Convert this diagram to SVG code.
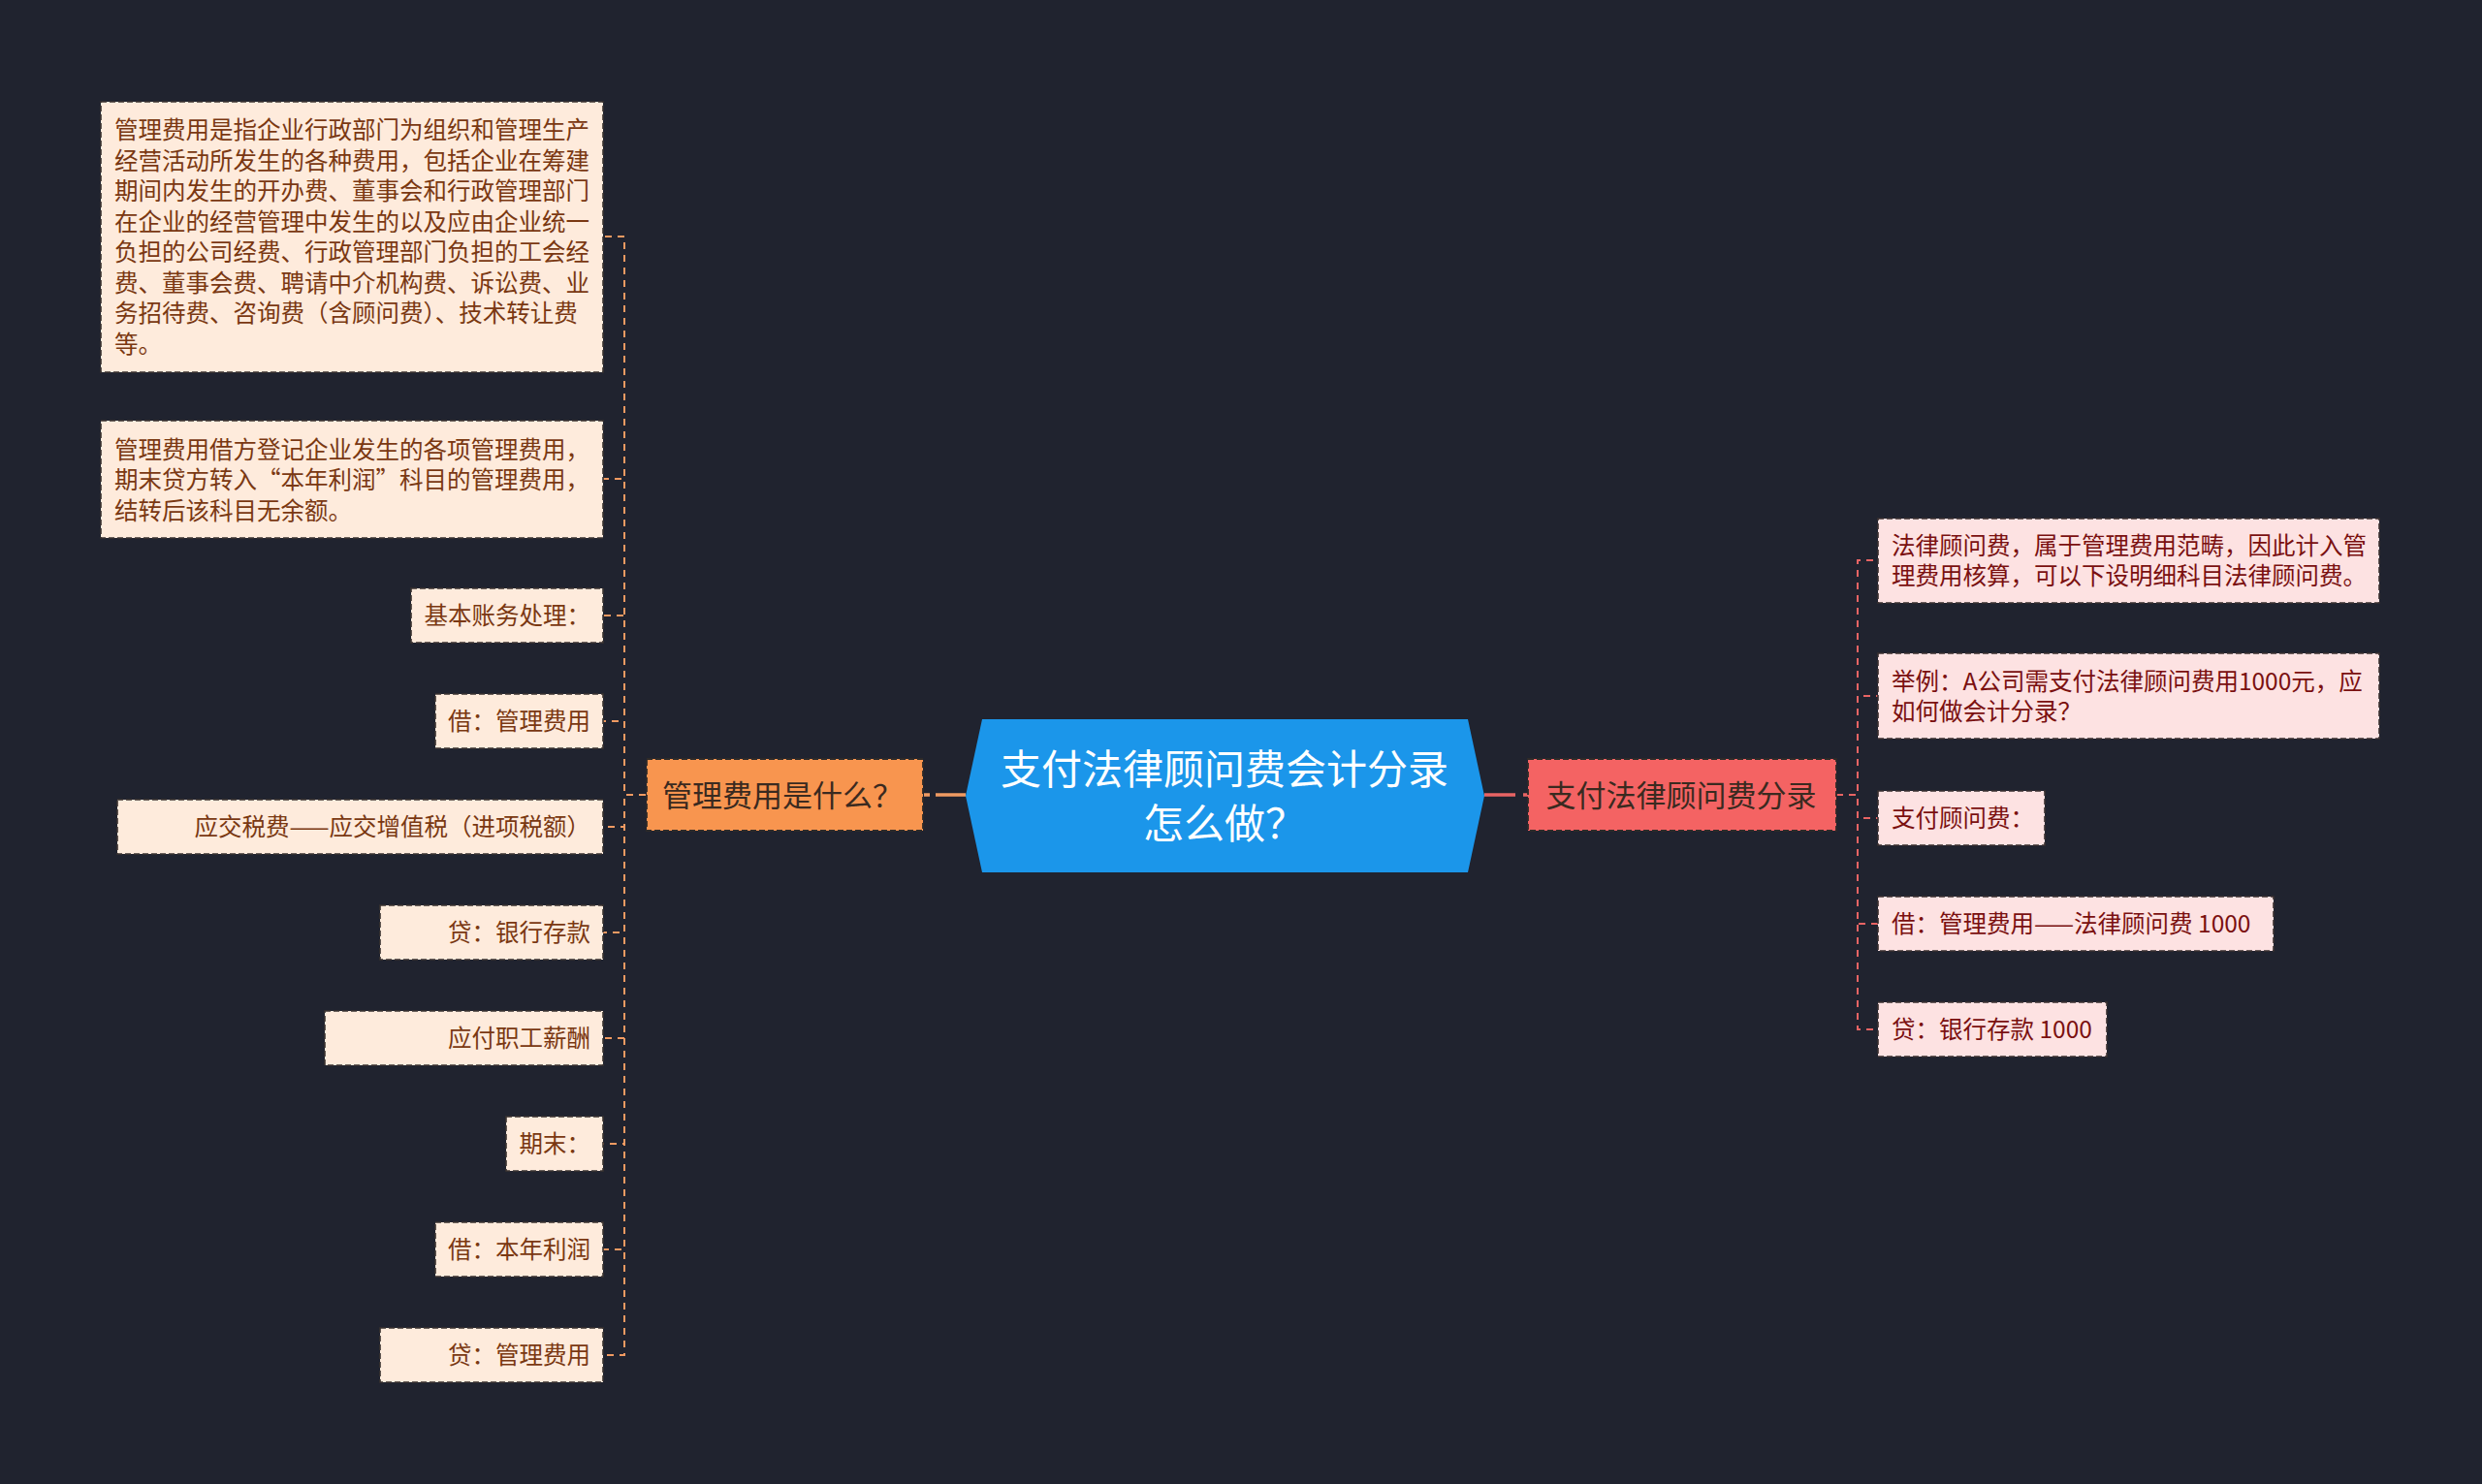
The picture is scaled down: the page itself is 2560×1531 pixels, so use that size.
<svg xmlns="http://www.w3.org/2000/svg" width="2560" height="1531" viewBox="0 0 2560 1531">
<defs>
<style>
.bg{fill:#20232f}
text{font-family:"Noto Sans CJK SC","Noto Sans",sans-serif}
.leafL rect{fill:#feebdc;stroke:#3a3330;stroke-width:1.6;stroke-dasharray:6 3}
.leafR rect{fill:#fde2e2;stroke:#3a3030;stroke-width:1.6;stroke-dasharray:6 3}
.leafL text{fill:#7a3812;font-size:24.5px;dominant-baseline:central}
.leafR text{fill:#7a1010;font-size:24.5px;dominant-baseline:central}
.branch rect{stroke:#2e2a28;stroke-width:1.8;stroke-dasharray:6 3}
.branch text{fill:#3a2a20;font-size:31px;dominant-baseline:central;text-anchor:middle}
.cL{fill:none;stroke:#f09a62;stroke-width:2;stroke-dasharray:7 6}
.cR{fill:none;stroke:#e86464;stroke-width:2;stroke-dasharray:7 6}
.end{text-anchor:end}
</style>
</defs>
<rect class="bg" x="0" y="0" width="2560" height="1531"/>

<g id="connectors">
<path class="cL" d="M666 820 H644 V244 H622"/>
<path class="cL" d="M666 820 H644 V494 H622"/>
<path class="cL" d="M666 820 H644 V635 H622"/>
<path class="cL" d="M666 820 H644 V744 H622"/>
<path class="cL" d="M666 820 H644 V853 H622"/>
<path class="cL" d="M666 820 H644 V962 H622"/>
<path class="cL" d="M666 820 H644 V1071 H622"/>
<path class="cL" d="M666 820 H644 V1180 H622"/>
<path class="cL" d="M666 820 H644 V1289 H622"/>
<path class="cL" d="M666 820 H644 V1398 H622"/>
<path class="cR" d="M1894 820 H1916 V578 H1937"/>
<path class="cR" d="M1894 820 H1916 V718 H1937"/>
<path class="cR" d="M1894 820 H1916 V844 H1937"/>
<path class="cR" d="M1894 820 H1916 V953 H1937"/>
<path class="cR" d="M1894 820 H1916 V1062 H1937"/>
<path d="M953 820 H996" fill="none" stroke="#f09a62" stroke-width="3.5" stroke-dasharray="6 6 40"/>
<path d="M1531 820 H1576" fill="none" stroke="#e86464" stroke-width="3.5" stroke-dasharray="32 8 6"/>
</g>

<g id="center">
<polygon points="1013,742 1514,742 1531,821 1514,900 1013,900 996,821" fill="#1b96ea"/>
<text x="1263" y="790" fill="#ffffff" font-size="42" text-anchor="middle" dominant-baseline="central">支付法律顾问费会计分录</text>
<text x="1263" y="846" fill="#ffffff" font-size="42" text-anchor="middle" dominant-baseline="central">怎么做？</text>
</g>

<g id="branch-left" class="branch">
<rect x="667" y="783" width="285" height="74" fill="#f8954f"/>
<text x="807" y="818">管理费用是什么？</text>
</g>

<g id="branch-right" class="branch">
<rect x="1576" y="783" width="318" height="74" fill="#f46363"/>
<text x="1734" y="818">支付法律顾问费分录</text>
</g>

<g id="leaf-l1" class="leafL">
<rect x="104" y="105" width="518" height="279"/>
<text x="118" y="132.5">管理费用是指企业行政部门为组织和管理生产</text>
<text x="118" y="164">经营活动所发生的各种费用，包括企业在筹建</text>
<text x="118" y="195.5">期间内发生的开办费、董事会和行政管理部门</text>
<text x="118" y="227">在企业的经营管理中发生的以及应由企业统一</text>
<text x="118" y="258.5">负担的公司经费、行政管理部门负担的工会经</text>
<text x="118" y="290">费、董事会费、聘请中介机构费、诉讼费、业</text>
<text x="118" y="321.5">务招待费、咨询费（含顾问费）、技术转让费</text>
<text x="118" y="353">等。</text>
</g>

<g id="leaf-l2" class="leafL">
<rect x="104" y="434" width="518" height="121"/>
<text x="118" y="462">管理费用借方登记企业发生的各项管理费用，</text>
<text x="118" y="493.5">期末贷方转入“本年利润”科目的管理费用，</text>
<text x="118" y="525">结转后该科目无余额。</text>
</g>

<g id="leaf-l3" class="leafL">
<rect x="424" y="607" width="198" height="56"/>
<text class="end" x="609" y="633.5">基本账务处理：</text>
</g>

<g id="leaf-l4" class="leafL">
<rect x="449" y="716" width="173" height="56"/>
<text class="end" x="609" y="742.5">借：管理费用</text>
</g>

<g id="leaf-l5" class="leafL">
<rect x="121" y="825" width="501" height="56"/>
<text class="end" x="609" y="851.5">应交税费——应交增值税（进项税额）</text>
</g>

<g id="leaf-l6" class="leafL">
<rect x="392" y="934" width="230" height="56"/>
<text class="end" x="609" y="960.5">贷：银行存款</text>
</g>

<g id="leaf-l7" class="leafL">
<rect x="335" y="1043" width="287" height="56"/>
<text class="end" x="609" y="1069.5">应付职工薪酬</text>
</g>

<g id="leaf-l8" class="leafL">
<rect x="522" y="1152" width="100" height="56"/>
<text class="end" x="609" y="1178.5">期末：</text>
</g>

<g id="leaf-l9" class="leafL">
<rect x="449" y="1261" width="173" height="56"/>
<text class="end" x="609" y="1287.5">借：本年利润</text>
</g>

<g id="leaf-l10" class="leafL">
<rect x="392" y="1370" width="230" height="56"/>
<text class="end" x="609" y="1396.5">贷：管理费用</text>
</g>

<g id="leaf-r1" class="leafR">
<rect x="1937" y="535" width="517" height="87"/>
<text x="1951" y="561.5">法律顾问费，属于管理费用范畴，因此计入管</text>
<text x="1951" y="592.5">理费用核算，可以下设明细科目法律顾问费。</text>
</g>

<g id="leaf-r2" class="leafR">
<rect x="1937" y="674" width="517" height="88"/>
<text x="1951" y="701.5">举例：A公司需支付法律顾问费用1000元，应</text>
<text x="1951" y="732.5">如何做会计分录？</text>
</g>

<g id="leaf-r3" class="leafR">
<rect x="1937" y="816" width="172" height="56"/>
<text x="1951" y="842.5">支付顾问费：</text>
</g>

<g id="leaf-r4" class="leafR">
<rect x="1937" y="925" width="408" height="56"/>
<text x="1951" y="951.5">借：管理费用——法律顾问费 1000</text>
</g>

<g id="leaf-r5" class="leafR">
<rect x="1937" y="1034" width="236" height="56"/>
<text x="1951" y="1060.5">贷：银行存款 1000</text>
</g>
</svg>
